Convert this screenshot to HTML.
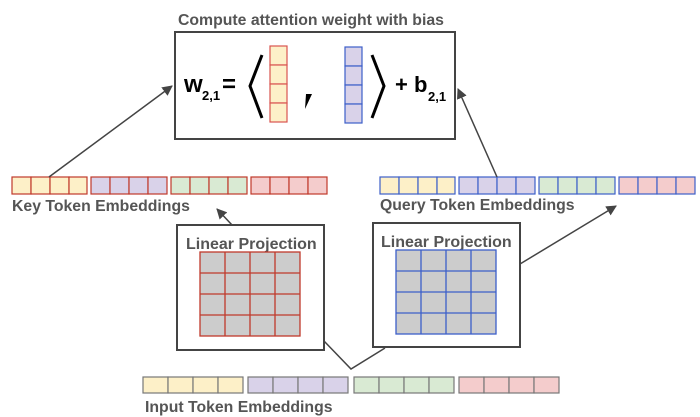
<!DOCTYPE html>
<html><head><meta charset="utf-8"><style>
html,body{margin:0;padding:0;background:#fff;width:700px;height:417px;overflow:hidden}
svg{display:block}
text{font-family:"Liberation Sans",Arial,sans-serif;font-weight:bold;fill:#555}
</style></head><body>
<svg width="700" height="417" viewBox="0 0 700 417" xmlns="http://www.w3.org/2000/svg">
<defs>
<marker id="ah" viewBox="0 0 10 10" refX="9" refY="5" markerWidth="7" markerHeight="7" orient="auto"><path d="M0,0 L10,5 L0,10 z" fill="#444"/></marker>
</defs>
<text x="178" y="25" font-size="15.8">Compute attention weight with bias</text>
<rect x="175" y="32" width="280" height="107" fill="#fff" stroke="#444" stroke-width="2"/>
<text x="184" y="92" font-size="24" style="fill:#000">w</text>
<text x="202" y="100" font-size="13" style="fill:#000">2,1</text>
<text x="222" y="92" font-size="24" style="fill:#000">=</text>
<polyline points="262,55 250,86 262,118" fill="none" stroke="#000" stroke-width="3"/>
<g stroke="#d9534f" stroke-width="1.2" fill="#fdf0c8">
<rect x="270" y="46" width="17" height="19"/><rect x="270" y="65" width="17" height="19"/><rect x="270" y="84" width="17" height="19"/><rect x="270" y="103" width="17" height="19"/></g>
<path d="M306,94 L312,94 L305,109 Z" fill="#000"/>
<g stroke="#3c5fc9" stroke-width="1.2" fill="#d9d2e9">
<rect x="345" y="47" width="17" height="19"/><rect x="345" y="66" width="17" height="19"/><rect x="345" y="85" width="17" height="19"/><rect x="345" y="104" width="17" height="19"/></g>
<polyline points="372,55 384,86 372,118" fill="none" stroke="#000" stroke-width="3"/>
<text x="395" y="92" font-size="22" style="fill:#000">+ b</text>
<text x="428" y="101" font-size="13" style="fill:#000">2,1</text>

<g stroke-width="1.2">
<g stroke="#c0392b">
<g fill="#fdf0c8"><rect x="12" y="177" width="19" height="17"/><rect x="31" y="177" width="19" height="17"/><rect x="50" y="177" width="19" height="17"/><rect x="69" y="177" width="18" height="17"/></g>
<g fill="#d9d2e9"><rect x="91" y="177" width="19" height="17"/><rect x="110" y="177" width="19" height="17"/><rect x="129" y="177" width="19" height="17"/><rect x="148" y="177" width="19" height="17"/></g>
<g fill="#d9ead3"><rect x="171" y="177" width="19" height="17"/><rect x="190" y="177" width="19" height="17"/><rect x="209" y="177" width="19" height="17"/><rect x="228" y="177" width="19" height="17"/></g>
<g fill="#f4cccc"><rect x="251" y="177" width="19" height="17"/><rect x="270" y="177" width="19" height="17"/><rect x="289" y="177" width="19" height="17"/><rect x="308" y="177" width="19" height="17"/></g>
</g>
<g stroke="#3c5fc9">
<g fill="#fdf0c8"><rect x="380" y="177" width="19" height="17"/><rect x="399" y="177" width="19" height="17"/><rect x="418" y="177" width="19" height="17"/><rect x="437" y="177" width="18" height="17"/></g>
<g fill="#d9d2e9"><rect x="459" y="177" width="19" height="17"/><rect x="478" y="177" width="19" height="17"/><rect x="497" y="177" width="19" height="17"/><rect x="516" y="177" width="19" height="17"/></g>
<g fill="#d9ead3"><rect x="539" y="177" width="19" height="17"/><rect x="558" y="177" width="19" height="17"/><rect x="577" y="177" width="19" height="17"/><rect x="596" y="177" width="19" height="17"/></g>
<g fill="#f4cccc"><rect x="619" y="177" width="19" height="17"/><rect x="638" y="177" width="19" height="17"/><rect x="657" y="177" width="19" height="17"/><rect x="676" y="177" width="19" height="17"/></g>
</g>
<g stroke="#777">
<g fill="#fdf0c8"><rect x="143" y="377" width="25" height="16"/><rect x="168" y="377" width="25" height="16"/><rect x="193" y="377" width="25" height="16"/><rect x="218" y="377" width="25" height="16"/></g>
<g fill="#d9d2e9"><rect x="248" y="377" width="25" height="16"/><rect x="273" y="377" width="25" height="16"/><rect x="298" y="377" width="25" height="16"/><rect x="323" y="377" width="25" height="16"/></g>
<g fill="#d9ead3"><rect x="354" y="377" width="25" height="16"/><rect x="379" y="377" width="25" height="16"/><rect x="404" y="377" width="25" height="16"/><rect x="429" y="377" width="25" height="16"/></g>
<g fill="#f4cccc"><rect x="459" y="377" width="25" height="16"/><rect x="484" y="377" width="25" height="16"/><rect x="509" y="377" width="25" height="16"/><rect x="534" y="377" width="25" height="16"/></g>
</g>
</g>
<text x="12" y="211" font-size="15.8">Key Token Embeddings</text>
<text x="380" y="210" font-size="15.8">Query Token Embeddings</text>
<text x="145" y="412" font-size="15.8">Input Token Embeddings</text>

<rect x="177" y="225" width="147" height="125" fill="#fff" stroke="#444" stroke-width="2"/>
<text x="186" y="249" font-size="16">Linear Projection</text>
<g stroke="#c0392b" stroke-width="1.3">
<rect x="200" y="252" width="100" height="84" fill="#ccc"/>
<line x1="225" y1="252" x2="225" y2="336"/><line x1="250" y1="252" x2="250" y2="336"/><line x1="275" y1="252" x2="275" y2="336"/>
<line x1="200" y1="273" x2="300" y2="273"/><line x1="200" y1="294" x2="300" y2="294"/><line x1="200" y1="315" x2="300" y2="315"/>
</g>
<rect x="373" y="223" width="147" height="124" fill="#fff" stroke="#444" stroke-width="2"/>
<text x="381" y="247" font-size="16">Linear Projection</text>
<g stroke="#3c5fc9" stroke-width="1.3">
<rect x="396" y="250" width="100" height="84" fill="#ccc"/>
<line x1="421" y1="250" x2="421" y2="334"/><line x1="446" y1="250" x2="446" y2="334"/><line x1="471" y1="250" x2="471" y2="334"/>
<line x1="396" y1="271" x2="496" y2="271"/><line x1="396" y1="292" x2="496" y2="292"/><line x1="396" y1="313" x2="496" y2="313"/>
</g>

<g stroke="#444" stroke-width="1.5" fill="none">
<line x1="49" y1="177" x2="172" y2="86" marker-end="url(#ah)"/>
<line x1="497" y1="177" x2="458" y2="89" marker-end="url(#ah)"/>
<line x1="232" y1="225" x2="217" y2="209" marker-end="url(#ah)"/>
<line x1="520" y1="264" x2="616" y2="206" marker-end="url(#ah)"/>
<polyline points="324,341 351,369 385,348"/>
</g>
</svg>
</body></html>
